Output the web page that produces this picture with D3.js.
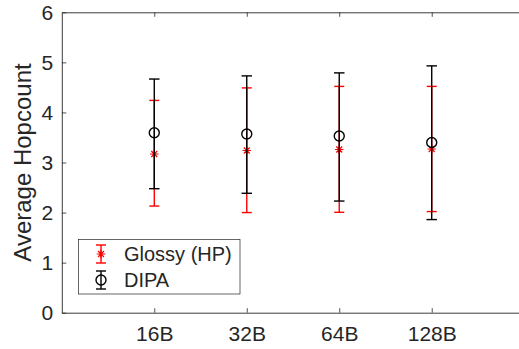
<!DOCTYPE html>
<html>
<head>
<meta charset="utf-8" />
<title>Average Hopcount</title>
<script src="https://cdn.jsdelivr.net/npm/d3@7/dist/d3.min.js"></script>
<style>
  body { margin: 0; background: #fff; }
  text { font-family: "Liberation Sans", Arial, Helvetica, sans-serif; fill: #262626; }
</style>
</head>
<body>
<div id="canvas"></div>
<script>
// data
const categories = ["16B", "32B", "64B", "128B"];
const glossyMean = [3.17, 3.24, 3.26, 3.27];
const glossyLow  = [2.13, 2.00, 2.005, 2.02];
const glossyHigh = [4.24, 4.49, 4.52, 4.52];
const dipaMean = [3.595, 3.57, 3.53, 3.40];
const dipaLow  = [2.477, 2.385, 2.23, 1.86];
const dipaHigh = [4.667, 4.73, 4.79, 4.93];
const yTicks = [0, 1, 2, 3, 4, 5, 6];

const width = 519, height = 349;
const axisColor = "#262626";
const x = d3.scaleLinear().domain([0, 5]).range([61.8, 524.2]);
const y = d3.scaleLinear().domain([0, 6]).range([312.7, 12.3]);

const svg = d3.select("#canvas").append("svg")
  .attr("width", width).attr("height", height)
  .attr("viewBox", [0, 0, width, height]);

// box + ticks (MATLAB style, ticks pointing inward, box on)
const tickLen = 4.5;
const yAxisL = svg.append("g").attr("transform", `translate(${x(0)},0)`)
  .call(d3.axisLeft(y).tickValues(yTicks).tickSizeInner(-tickLen).tickSizeOuter(0)
    .tickPadding(8.5).tickFormat(d3.format("d")));
const yAxisR = svg.append("g").attr("transform", `translate(${x(5)},0)`)
  .call(d3.axisRight(y).tickValues(yTicks).tickSizeInner(-tickLen).tickSizeOuter(0).tickFormat(""));
const xAxisB = svg.append("g").attr("transform", `translate(0,${y(0)})`)
  .call(d3.axisBottom(x).tickValues([1, 2, 3, 4]).tickSizeInner(-tickLen).tickSizeOuter(0)
    .tickPadding(13).tickFormat((d) => categories[d - 1]));
const xAxisT = svg.append("g").attr("transform", `translate(0,${y(6)})`)
  .call(d3.axisTop(x).tickValues([1, 2, 3, 4]).tickSizeInner(-tickLen).tickSizeOuter(0).tickFormat(""));

[yAxisL, yAxisR, xAxisB, xAxisT].forEach((g) => {
  g.attr("font-size", 21).attr("font-family", '"Liberation Sans", Arial, sans-serif');
  g.select(".domain").attr("stroke", axisColor).attr("stroke-width", 0.9);
  g.selectAll(".tick line").attr("stroke", axisColor).attr("stroke-width", 0.8);
  g.selectAll(".tick text").attr("fill", axisColor);
});
xAxisB.selectAll(".tick text").attr("dy", "0.71em");

svg.append("text")
  .attr("transform", `translate(31,${(y(0) + y(6)) / 2}) rotate(-90)`)
  .attr("text-anchor", "middle")
  .attr("font-size", 24)
  .text("Average Hopcount");

// asterisk marker like MATLAB '*': + and x combined
function asterisk(r) {
  const d = r * Math.SQRT1_2;
  return `M${-r},0L${r},0M0,${-r}L0,${r}M${-d},${-d}L${d},${d}M${-d},${d}L${d},${-d}`;
}

function errorSeries(g, xs, mean, low, high, color, capW) {
  const s = g.append("g").attr("stroke", color).attr("stroke-width", 1.4).attr("fill", "none");
  s.selectAll("line.v").data(xs).join("line").attr("class", "v")
    .attr("x1", (d) => x(d)).attr("x2", (d) => x(d))
    .attr("y1", (d, i) => y(low[i])).attr("y2", (d, i) => y(high[i]));
  s.selectAll("line.lo").data(xs).join("line").attr("class", "lo")
    .attr("x1", (d) => x(d) - capW / 2).attr("x2", (d) => x(d) + capW / 2)
    .attr("y1", (d, i) => y(low[i])).attr("y2", (d, i) => y(low[i]));
  s.selectAll("line.hi").data(xs).join("line").attr("class", "hi")
    .attr("x1", (d) => x(d) - capW / 2).attr("x2", (d) => x(d) + capW / 2)
    .attr("y1", (d, i) => y(high[i])).attr("y2", (d, i) => y(high[i]));
  return s;
}

const xs = categories.map((c, i) => i + 1);
const plot = svg.append("g");

const g1 = errorSeries(plot, xs, glossyMean, glossyLow, glossyHigh, "#ff0000", 10);
g1.selectAll("path").data(xs).join("path")
  .attr("d", asterisk(4.2))
  .attr("stroke-width", 1.2)
  .attr("transform", (d, i) => `translate(${x(d)},${y(glossyMean[i])})`);

const g2 = errorSeries(plot, xs, dipaMean, dipaLow, dipaHigh, "#000000", 10.5);
g2.selectAll("circle").data(xs).join("circle")
  .attr("cx", (d) => x(d)).attr("cy", (d, i) => y(dipaMean[i]))
  .attr("r", 5).attr("stroke-width", 1.4).attr("fill", "none");

// legend
const leg = svg.append("g");
leg.append("rect").attr("x", 78.5).attr("y", 239.5).attr("width", 161.5).attr("height", 54.5)
  .attr("fill", "#fff").attr("stroke", axisColor).attr("stroke-width", 0.7);

const legItems = [
  { label: "Glossy (HP)", color: "#ff0000", cy: 254, marker: "star" },
  { label: "DIPA", color: "#000000", cy: 280, marker: "circle" }
];
legItems.forEach((it) => {
  const lx = 101;
  const gi = leg.append("g").attr("stroke", it.color).attr("stroke-width", 1.4).attr("fill", "none");
  gi.append("line").attr("x1", lx).attr("x2", lx).attr("y1", it.cy - 9).attr("y2", it.cy + 9);
  gi.append("line").attr("x1", lx - 5).attr("x2", lx + 5).attr("y1", it.cy - 9).attr("y2", it.cy - 9);
  gi.append("line").attr("x1", lx - 5).attr("x2", lx + 5).attr("y1", it.cy + 9).attr("y2", it.cy + 9);
  if (it.marker === "star") {
    gi.append("path").attr("d", asterisk(4.2)).attr("stroke-width", 1.2)
      .attr("transform", `translate(${lx},${it.cy})`);
  } else {
    gi.append("circle").attr("cx", lx).attr("cy", it.cy).attr("r", 5);
  }
  leg.append("text").attr("x", 124).attr("y", it.cy).attr("dy", "0.36em")
    .attr("font-size", 20).text(it.label);
});
</script>
</body>
</html>
